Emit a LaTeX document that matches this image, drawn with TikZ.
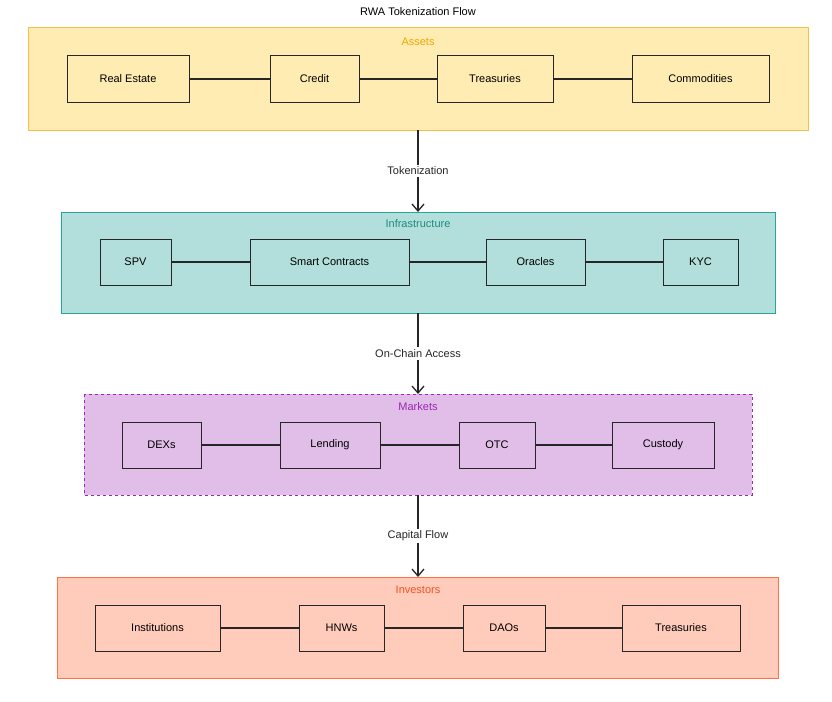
\documentclass[tikz,border=0pt]{standalone}
\usepackage{fontspec}
\setmainfont{Liberation Sans}
\usetikzlibrary{arrows.meta}
\definecolor{ayf}{HTML}{FFECB3}\definecolor{ayd}{HTML}{F5C04A}\definecolor{ayt}{HTML}{F0A500}
\definecolor{itf}{HTML}{B2DFDB}\definecolor{itd}{HTML}{26A69A}\definecolor{itt}{HTML}{1E8C7E}
\definecolor{mkf}{HTML}{E1BEE7}\definecolor{mkd}{HTML}{9C27B0}
\definecolor{ivf}{HTML}{FFCCBC}\definecolor{ivd}{HTML}{FF7043}\definecolor{ivt}{HTML}{F4511E}
\begin{document}
\begin{tikzpicture}[x=1pt,y=-1pt,font=\fontsize{11}{13}\selectfont,
 grp/.style={draw,line width=1pt},
 item/.style={draw=black!85,line width=1pt,inner sep=0pt},
 link/.style={line width=1.2pt,black!85},
 flow/.style={line width=1.3pt,black!85,-{Straight Barb[length=7pt,width=12pt]}},
 lbl/.style={fill=white,inner sep=2pt,text=black!85}]
\useasboundingbox (0,0) rectangle (832,701);
\node (title) at (418,12) {RWA Tokenization Flow};
% Assets
\path[grp,draw=ayd,fill=ayf] (28,28) rectangle (808,130);
\coordinate (ga) at (418,130);
\node[text=ayt] (ta) at (418,42) {Assets};
\path[item] (67,56) rectangle node (a1) {Real Estate} (189,102);
\path[item] (270,56) rectangle node (a2) {Credit} (359,102);
\path[item] (437,56) rectangle node (a3) {Treasuries} (553,102);
\path[item] (632,56) rectangle node (a4) {Commodities} (769,102);
\draw[link] (189,79)--(270,79) (359,79)--(437,79) (553,79)--(632,79);
% Infrastructure
\path[grp,draw=itd,fill=itf] (61,212) rectangle (775,313);
\coordinate (gi) at (418,212); \coordinate (gib) at (418,313);
\node[text=itt] (ti) at (418,224) {Infrastructure};
\path[item] (100,239) rectangle node (b1) {SPV} (171,285);
\path[item] (250,239) rectangle node (b2) {Smart Contracts} (409,285);
\path[item] (486,239) rectangle node (b3) {Oracles} (585,285);
\path[item] (663,239) rectangle node (b4) {KYC} (738,285);
\draw[link] (171,262)--(250,262) (409,262)--(486,262) (585,262)--(663,262);
% Markets
\path[grp,draw=mkd,fill=mkf,dashed] (84,394) rectangle (752,495);
\coordinate (gm) at (418,394); \coordinate (gmb) at (418,495);
\node[text=mkd] (tm) at (418,407) {Markets};
\path[item] (122,422) rectangle node (c1) {DEXs} (201,468);
\path[item] (280,422) rectangle node (c2) {Lending} (380,468);
\path[item] (459,422) rectangle node (c3) {OTC} (535,468);
\path[item] (612,422) rectangle node (c4) {Custody} (714,468);
\draw[link] (201,445)--(280,445) (380,445)--(459,445) (535,445)--(612,445);
% Investors
\path[grp,draw=ivd,fill=ivf] (57,577) rectangle (778,678);
\coordinate (gv) at (418,577);
\node[text=ivt] (tv) at (418,590) {Investors};
\path[item] (95,605) rectangle node (d1) {Institutions} (220,651);
\path[item] (299,605) rectangle node (d2) {HNWs} (384,651);
\path[item] (463,605) rectangle node (d3) {DAOs} (545,651);
\path[item] (622,605) rectangle node (d4) {Treasuries} (740,651);
\draw[link] (220,628)--(299,628) (384,628)--(463,628) (545,628)--(622,628);
% flows
\draw[flow] (ga)--(gi) node[lbl,midway] {Tokenization};
\draw[flow] (gib)--(gm) node[lbl,midway] {On-Chain Access};
\draw[flow] (gmb)--(gv) node[lbl,midway] {Capital Flow};
\end{tikzpicture}
\end{document}
